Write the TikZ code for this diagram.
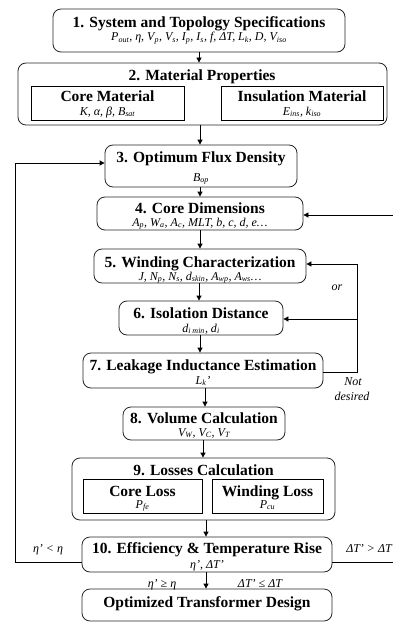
\documentclass[tikz,border=0pt]{standalone}
\usepackage{fontspec}
\setmainfont{Liberation Serif}
\usetikzlibrary{arrows.meta}
\tikzset{
  rbox/.style={draw=black!85, rounded corners=8pt, line width=0.8pt, inner sep=0pt},
  sbox/.style={draw=black, line width=0.8pt, inner sep=0pt},
  ttl/.style={font=\fontsize{15.5}{16}\selectfont\bfseries, inner sep=0pt, anchor=base},
  sub/.style={font=\fontsize{12}{13}\selectfont\itshape, inner sep=0pt, anchor=base},
  lbl/.style={font=\fontsize{12}{13}\selectfont\itshape, inner sep=0pt, anchor=base},
  arr/.style={-{Triangle[length=5pt,width=5pt]}, line width=0.8pt},
  ln/.style={line width=0.8pt}
}
\newcommand{\sbs}[1]{\textsubscript{#1}}
\begin{document}
\begin{tikzpicture}[x=1pt,y=-1pt]
\useasboundingbox (0,0) rectangle (393,623);
% Box 1
\node[rbox, minimum width=292pt, minimum height=43pt] (b1) at (199,30.5) {};
\node[ttl] (b1t) at (199,28) {1. System and Topology Specifications};
\node[sub] (b1s) at (199,41) {P\sbs{out}, η, V\sbs{p}, V\sbs{s}, I\sbs{p}, I\sbs{s}, f, ΔT, L\sbs{k}, D, V\sbs{iso}};
% Box 2
\node[rbox, minimum width=369pt, minimum height=62pt] (b2) at (202.5,94) {};
\node[ttl] (b2t) at (202,81) {2. Material Properties};
\node[sbox, minimum width=153pt, minimum height=34pt] (cm) at (107.5,103) {};
\node[ttl] (cmt) at (107.5,102) {Core Material};
\node[sub] (cms) at (107.5,115) {K, α, β, B\sbs{sat}};
\node[sbox, minimum width=162pt, minimum height=34pt] (im) at (302,103) {};
\node[ttl] (imt) at (302,102) {Insulation Material};
\node[sub] (ims) at (302,115) {E\sbs{ins}, k\sbs{iso}};
% Box 3
\node[rbox, minimum width=192pt, minimum height=42pt] (b3) at (201,166) {};
\node[ttl] (b3t) at (201,162) {3. Optimum Flux Density};
\node[sub] (b3s) at (201,181) {B\sbs{op}};
% Box 4
\node[rbox, minimum width=206pt, minimum height=33pt] (b4) at (200,213.5) {};
\node[ttl] (b4t) at (200,213) {4. Core Dimensions};
\node[sub] (b4s) at (200,226) {A\sbs{p}, W\sbs{a}, A\sbs{c}, MLT, b, c, d, e…};
% Box 5
\node[rbox, minimum width=212pt, minimum height=34pt] (b5) at (200,266) {};
\node[ttl] (b5t) at (200,267) {5. Winding Characterization};
\node[sub] (b5s) at (200,280) {J, N\sbs{p}, N\sbs{s}, d\sbs{skin}, A\sbs{wp}, A\sbs{ws}…};
% Box 6
\node[rbox, minimum width=164pt, minimum height=34pt] (b6) at (201,318) {};
\node[ttl] (b6t) at (201,318) {6. Isolation Distance};
\node[sub] (b6s) at (201,332) {d\sbs{i min}, d\sbs{i}};
% Box 7
\node[rbox, minimum width=240pt, minimum height=35pt] (b7) at (203,370.5) {};
\node[ttl] (b7t) at (203,370) {7. Leakage Inductance Estimation};
\node[sub] (b7s) at (203,384) {L\sbs{k}'};
% Box 8
\node[rbox, minimum width=162pt, minimum height=33pt] (b8) at (204,423.5) {};
\node[ttl] (b8t) at (204,423) {8. Volume Calculation};
\node[sub] (b8s) at (204,436) {V\sbs{W}, V\sbs{C}, V\sbs{T}};
% Box 9
\node[rbox, minimum width=263pt, minimum height=62pt] (b9) at (203.5,489) {};
\node[ttl] (b9t) at (203.5,475) {9. Losses Calculation};
\node[sbox, minimum width=119pt, minimum height=34pt] (cl) at (142.5,496) {};
\node[ttl] (clt) at (142.5,496) {Core Loss};
\node[sub] (cls) at (142.5,508) {P\sbs{fe}};
\node[sbox, minimum width=111pt, minimum height=34pt] (wl) at (267.5,496) {};
\node[ttl] (wlt) at (267.5,496) {Winding Loss};
\node[sub] (wls) at (267.5,508) {P\sbs{cu}};
% Box 10
\node[rbox, minimum width=250pt, minimum height=35pt] (b10) at (207,554.5) {};
\node[ttl] (b10t) at (207,553) {10. Efficiency \& Temperature Rise};
\node[sub] (b10s) at (207,568) {η', ΔT'};
% Final
\node[rbox, minimum width=250pt, minimum height=32pt] (fin) at (207,605) {};
\node[ttl] (fint) at (207,607) {Optimized Transformer Design};
% spine arrows
\draw[arr] (b1.south) -- (b1.south |- b2.north);
\draw[arr] ([xshift=-2.5pt]b2.south) -- ([xshift=-2.5pt]b2.south |- b3.north);
\draw[arr] ([xshift=-1pt]b3.south) -- ([xshift=-1pt]b3.south |- b4.north);
\draw[arr] (b4.south) -- (b4.south |- b5.north);
\draw[arr] ([xshift=-1pt]b5.south) -- ([xshift=-1pt]b5.south |- b6.north);
\draw[arr] ([xshift=-1pt]b6.south) -- ([xshift=-1pt]b6.south |- b7.north);
\draw[arr] ([xshift=2pt]b7.south) -- ([xshift=2pt]b7.south |- b8.north);
\draw[arr] ([xshift=-1pt]b8.south) -- ([xshift=-1pt]b8.south |- b9.north);
\draw[arr] ([xshift=2.5pt]b9.south) -- ([xshift=2.5pt]b9.south |- b10.north);
\draw[arr] ([xshift=-1pt]b10.south) -- ([xshift=-1pt]b10.south |- fin.north);
% feedback left
\coordinate (lft) at (15,0);
\coordinate (rgt) at (400,0);
\coordinate (lp) at (357,0);
\draw[arr] ([yshift=-7.5pt]b10.west) -- ([yshift=-7.5pt]b10.west -| lft) |- ([yshift=3pt]b3.west);
% feedback right
\draw[ln] ([yshift=-7.5pt]b10.east) -- ([yshift=-7.5pt]b10.east -| rgt);
\draw[arr] ([yshift=-1.5pt]b4.east -| rgt) -- ([yshift=-1.5pt]b4.east);
% loop 7 -> 5/6
\draw[arr] ([yshift=-1.5pt]b7.east) -- ([yshift=-1.5pt]b7.east -| lp) |- ([yshift=2pt]b5.east);
\draw[arr] ([yshift=-1pt]b6.east -| lp) -- ([yshift=-1pt]b6.east);
% labels
\node[lbl] (lor) at (337,290) {or};
\node[lbl] (lnot) at (353,385) {Not};
\node[lbl] (ldes) at (352,400) {desired};
\node[lbl] (leta1) at (48,552) {η' < η};
\node[lbl, anchor=base east] (ldt1) at (392,552) {ΔT' > ΔT};
\node[lbl] (leta2) at (162,587) {η' ≥ η};
\node[lbl] (ldt2) at (260,587) {ΔT' ≤ ΔT};
\end{tikzpicture}
\end{document}
